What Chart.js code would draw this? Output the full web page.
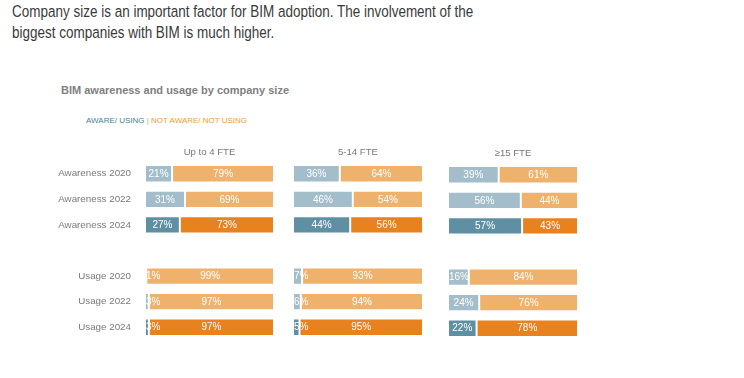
<!DOCTYPE html>
<html>
<head>
<meta charset="utf-8">
<script src="https://cdn.jsdelivr.net/npm/chart.js@4.4.1/dist/chart.umd.min.js"></script>
<style>
  html, body { margin: 0; padding: 0; background: #fff; }
  body { width: 744px; height: 378px; position: relative; overflow: hidden; font-family: "Liberation Sans", Arial, sans-serif; }
  #headline { position: absolute; left: 12px; top: 1px; font-family: "Liberation Sans", Arial, sans-serif; font-size: 16.3px; line-height: 21px; color: #3a3a3a; white-space: nowrap; transform: scaleX(0.828); transform-origin: 0 0; }
  #sub { position: absolute; left: 61px; top: 84px; font-size: 11px; line-height: 13px; font-weight: bold; color: #808080; white-space: nowrap; }
  #legend { position: absolute; left: 86px; top: 116px; font-size: 8px; line-height: 10px; white-space: nowrap; }
  canvas { position: absolute; }
</style>
</head>
<body>
<div id="headline">Company size is an important factor for BIM adoption. The involvement of the<br>biggest companies with BIM is much higher.</div>
<div id="sub">BIM awareness and usage by company size</div>
<div id="legend"><span style="color:#4a7f98">AWARE/ USING</span> <span style="color:#b0b0b0">|</span> <span style="color:#f29b3c">NOT AWARE/ NOT USING</span></div>
<canvas id="c1" width="234" height="210" style="left:40px;top:140px"></canvas>
<canvas id="c2" width="130" height="210" style="left:293px;top:140px"></canvas>
<canvas id="c3" width="130" height="210" style="left:448px;top:141px"></canvas>
<script>
const rowLabels = ['Awareness 2020', 'Awareness 2022', 'Awareness 2024', '', 'Usage 2020', 'Usage 2022', 'Usage 2024'];
const panelTitles = ['Up to 4 FTE', '5-14 FTE', '\u226515 FTE'];

const awareUp4   = [21, 31, 27, null, 1, 3, 3];
const notAwareUp4 = [79, 69, 73, null, 99, 97, 97];
const aware5to14 = [36, 46, 44, null, 7, 6, 5];
const notAware5to14 = [64, 54, 56, null, 93, 94, 95];
const aware15 = [39, 56, 57, null, 16, 24, 22];
const notAware15 = [61, 44, 43, null, 84, 76, 78];

const blueLight = '#a3bdca', blueDark = '#5f8fa3';
const orangeLight = '#efb26d', orangeDark = '#e8821f';
const blueCols = [blueLight, blueLight, blueDark, blueLight, blueLight, blueLight, blueDark];
const orangeCols = [orangeLight, orangeLight, orangeDark, orangeLight, orangeLight, orangeLight, orangeDark];

const labelPlugin = {
  id: 'barLabels',
  afterDatasetsDraw(chart) {
    const ctx = chart.ctx;
    ctx.save();
    ctx.font = '10px "Liberation Sans", Arial, sans-serif';
    ctx.fillStyle = '#ffffff';
    ctx.textBaseline = 'middle';
    ctx.textAlign = 'left';
    chart.data.datasets.forEach((ds, di) => {
      const meta = chart.getDatasetMeta(di);
      meta.data.forEach((bar, i) => {
        const v = ds.data[i];
        if (v === null || v === undefined) return;
        const p = bar.getProps(['x', 'y', 'base'], true);
        const txt = v + '%';
        const w = ctx.measureText(txt).width;
        let left = (p.x + p.base) / 2 - w / 2;
        if (left < p.base + 1) left = p.base + 1;
        ctx.fillText(txt, left, p.y + 0.5);
      });
    });
    const ca = chart.chartArea;
    ctx.font = '9.6px "Liberation Sans", Arial, sans-serif';
    ctx.fillStyle = '#7a7a7a';
    ctx.textAlign = 'center';
    ctx.fillText(chart.options.plugins.panelTitle, (ca.left + ca.right) / 2, ca.top - 9);
    ctx.restore();
  }
};

function makeChart(id, aware, notAware, title, showY) {
  return new Chart(document.getElementById(id), {
    type: 'bar',
    data: {
      labels: rowLabels,
      datasets: [
        { label: 'Aware/ Using', data: aware, backgroundColor: blueCols, borderColor: '#ffffff', borderWidth: 1, borderSkipped: false },
        { label: 'Not aware/ Not using', data: notAware, backgroundColor: orangeCols, borderColor: '#ffffff', borderWidth: 1, borderSkipped: false }
      ]
    },
    options: {
      indexAxis: 'y',
      responsive: false,
      animation: false,
      devicePixelRatio: 1,
      layout: { padding: { top: 21, bottom: 10, left: 0, right: 0 } },
      categoryPercentage: 1,
      barPercentage: 0.68,
      plugins: {
        legend: { display: false },
        tooltip: { enabled: false },
        panelTitle: title
      },
      scales: {
        x: { stacked: true, min: 0, max: 100, display: false },
        y: {
          stacked: true,
          display: showY,
          grid: { display: false, drawTicks: false },
          border: { display: false },
          ticks: { color: '#7a7a7a', font: { size: 9.8, family: '"Liberation Sans", Arial, sans-serif' }, padding: 14 },
          afterFit(scale) { scale.width = showY ? 105 : 0; scale.paddingTop = 0; scale.paddingBottom = 0; }
        }
      }
    },
    plugins: [labelPlugin]
  });
}

makeChart('c1', awareUp4, notAwareUp4, panelTitles[0], true);
makeChart('c2', aware5to14, notAware5to14, panelTitles[1], false);
makeChart('c3', aware15, notAware15, panelTitles[2], false);
</script>
</body>
</html>
